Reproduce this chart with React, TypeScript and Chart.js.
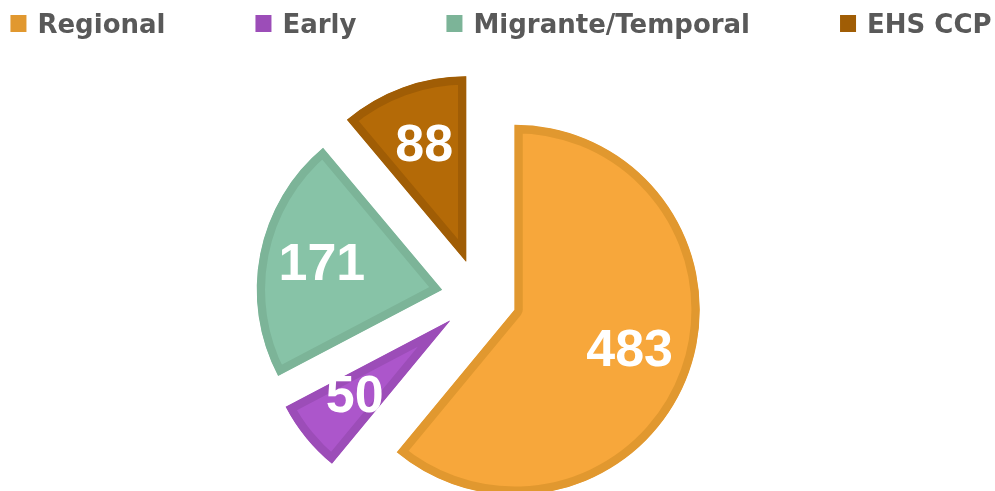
import React, { useEffect, useRef } from "react";
import { Chart, registerables } from "chart.js";

Chart.register(...registerables);

const categories = ["Regional", "Early", "Migrante/Temporal", "EHS CCP"];
const values = [483, 50, 171, 88];
const fillColors = ["#F7A73B", "#AC56CB", "#87C3A7", "#B46A07"];
const edgeColors = ["#E1982F", "#9C4DB8", "#7CB498", "#A05D05"];

const EXPLODE = 38;
const LABEL_K = 0.66;

const explodePlugin = {
  id: "explode",
  afterUpdate(chart: any) {
    const meta = chart.getDatasetMeta(0);
    meta.data.forEach((arc: any) => {
      const mid = (arc.startAngle + arc.endAngle) / 2;
      arc.x += Math.cos(mid) * EXPLODE;
      arc.y += Math.sin(mid) * EXPLODE;
    });
  },
};

const labelPlugin = {
  id: "sliceLabels",
  afterDatasetsDraw(chart: any) {
    const meta = chart.getDatasetMeta(0);
    const ctx = chart.ctx;
    ctx.save();
    ctx.fillStyle = "#FFFFFF";
    ctx.font = "bold 52px 'Liberation Sans', Arial, sans-serif";
    ctx.textAlign = "center";
    ctx.textBaseline = "middle";
    meta.data.forEach((arc: any, i: number) => {
      const { x, y, startAngle, endAngle, outerRadius } = arc;
      const mid = (startAngle + endAngle) / 2;
      const r = LABEL_K * outerRadius;
      ctx.fillText(String(values[i]), x + Math.cos(mid) * r, y + Math.sin(mid) * r);
    });
    ctx.restore();
  },
};

const legendPlugin = {
  id: "topLegend",
  afterDraw(chart: any) {
    const ctx = chart.ctx;
    ctx.save();
    ctx.font = "bold 26px 'DejaVu Sans', sans-serif";
    const boxW = 16;
    const boxH = 17;
    const textGap = 11;
    const itemGap = 90;
    const widths = categories.map((c) => boxW + textGap + ctx.measureText(c).width);
    const total = widths.reduce((a, b) => a + b, 0) + itemGap * (categories.length - 1);
    let x = 501 - total / 2;
    categories.forEach((c, i) => {
      ctx.fillStyle = edgeColors[i];
      ctx.fillRect(x, 15, boxW, boxH);
      ctx.fillStyle = "#595959";
      ctx.textAlign = "left";
      ctx.textBaseline = "alphabetic";
      ctx.fillText(c, x + boxW + textGap, 33);
      x += widths[i] + itemGap;
    });
    ctx.restore();
  },
};

export default function App() {
  const ref = useRef<HTMLCanvasElement | null>(null);
  useEffect(() => {
    if (!ref.current) return;
    const chart = new Chart(ref.current, {
      type: "pie",
      data: {
        labels: categories,
        datasets: [
          {
            data: values,
            backgroundColor: fillColors,
            borderColor: edgeColors,
            borderWidth: 8,
            borderAlign: "inner",
            clip: false as any,
          } as any,
        ],
      },
      options: {
        responsive: true,
        maintainAspectRatio: false,
        animation: false,
        events: [],
        radius: 185,
        layout: { padding: { left: 0, right: 37, top: 103, bottom: 0 } },
        plugins: {
          legend: { display: false },
          tooltip: { enabled: false },
        },
      } as any,
      plugins: [explodePlugin, labelPlugin, legendPlugin],
    });
    return () => chart.destroy();
  }, []);
  return (
    <div style={{ position: "absolute", left: 0, top: 0, width: 995, height: 491, background: "#FFFFFF" }}>
      <canvas ref={ref} />
    </div>
  );
}
